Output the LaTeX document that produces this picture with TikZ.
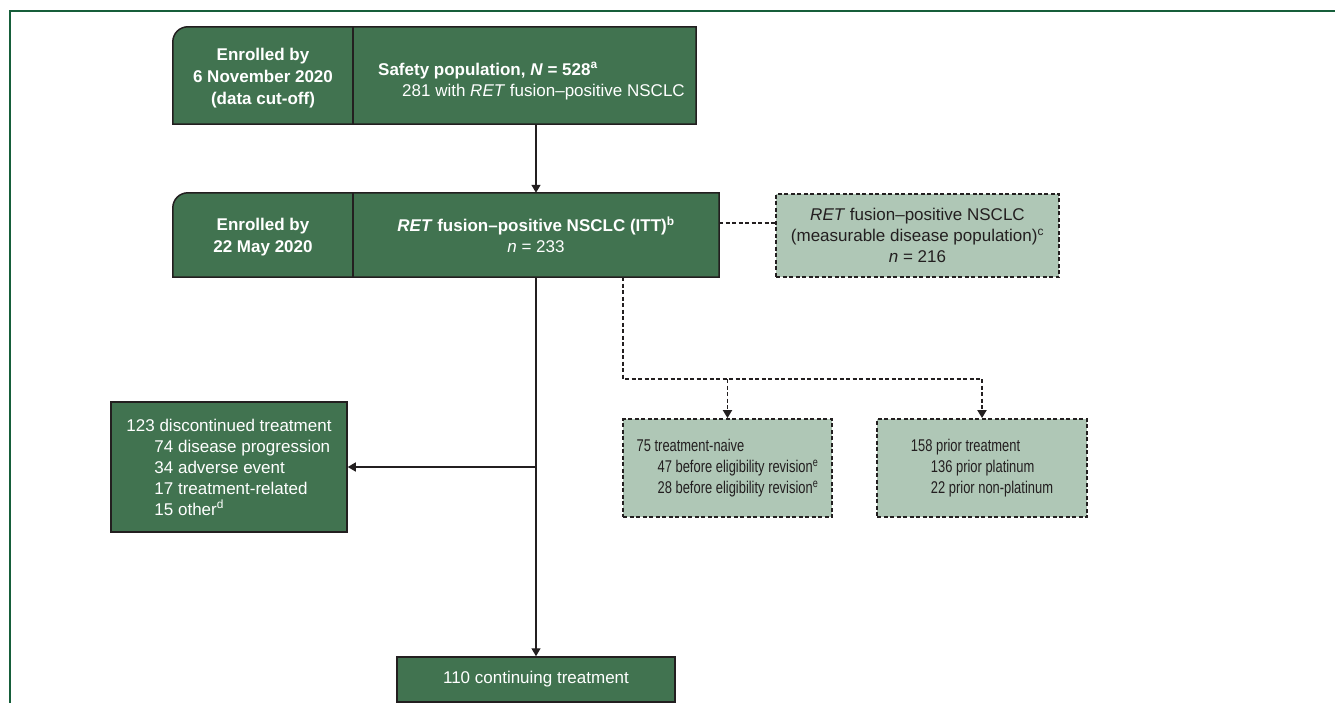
\documentclass[tikz,border=0pt]{standalone}
\usepackage{fontspec}
\setmainfont{Liberation Sans}
\newfontfamily\narrowfont[FakeStretch=0.76]{Liberation Sans}
\usepackage{xcolor}
\usetikzlibrary{arrows.meta,positioning,backgrounds}
\definecolor{frame}{RGB}{22,94,58}
\definecolor{dkgreen}{RGB}{65,115,80}
\definecolor{ltgreen}{RGB}{175,199,182}
\definecolor{ink}{RGB}{35,31,32}

\begin{document}
\begin{tikzpicture}[
    x=1pt, y=-1pt,
    font=\fontsize{17}{21}\selectfont,
    datecell/.style={inner sep=0pt, minimum width=180pt, text=white, align=center, font=\fontsize{17}{22}\selectfont\bfseries},
    shell/.style={draw=ink, line width=1.5pt, fill=dkgreen},
    darkbox/.style={draw=ink, line width=1.5pt, fill=dkgreen, text=white, inner sep=0pt, align=left},
    lightbox/.style={draw=ink, line width=1.8pt, dash pattern=on 4pt off 2.5pt, fill=ltgreen, text=ink, inner sep=0pt},
    arr/.style={draw=ink, line width=1.4pt, -{Triangle[length=8pt,width=9pt]}},
    dotline/.style={draw=ink, line width=1.8pt, dash pattern=on 4pt off 2.5pt},
    dotarr/.style={dotline, -{Triangle[length=8pt,width=9pt]}}
]
\useasboundingbox (0,0) rectangle (1335,703);

% Frame
\draw[frame, line width=2.5pt] (10,703) -- (10,11) -- (1335,11);

% Top rows
\node[datecell, minimum height=97pt] (e1) at (263,78) {Enrolled by\\6 November 2020\\(data cut-off)};
\node[inner sep=0pt, minimum width=343pt, minimum height=97pt] (s1) at (524.5,75.5) {};
\node[inner sep=0pt, anchor=west, align=left, text=white] (st) at (378,81)
    {\textbf{Safety population, \textit{N} = 528\textsuperscript{a}}\\\hspace*{24pt}281 with \textit{RET} fusion–positive NSCLC};

\node[datecell, minimum height=84pt] (e2) at (263,237) {Enrolled by\\22 May 2020};
\node[inner sep=0pt, minimum width=366pt, minimum height=84pt, align=center, text=white] (i2) at (536,235)
    {\textbf{\textit{RET} fusion–positive NSCLC (ITT)\textsuperscript{b}}\\\textit{n} = 233};

\begin{scope}[on background layer]
\draw[shell] (s1.south east) -- (s1.south west -| e1.west) -- (e1.west) [rounded corners=15pt] -- (s1.north west -| e1.west) -- (s1.north west) [sharp corners] -- (s1.north east) -- cycle;
\draw[ink, line width=1.5pt] (s1.north west) -- (s1.south west);
\draw[shell] (i2.south east) -- (i2.south west -| e2.west) -- (e2.west) [rounded corners=15pt] -- (i2.north west -| e2.west) -- (i2.north west) [sharp corners] -- (i2.north east) -- cycle;
\draw[ink, line width=1.5pt] (i2.north west) -- (i2.south west);
\end{scope}

% Side and lower boxes
\node[lightbox, minimum width=283pt, minimum height=83pt, align=center] (m2) at (917.5,235.5)
    {\textit{RET} fusion–positive NSCLC\\(measurable disease population)\textsuperscript{c}\\\textit{n} = 216};

\node[lightbox, minimum width=209pt, minimum height=98pt, align=left, font=\fontsize{17}{21}\narrowfont] (tn) at (727.5,468)
    {75 treatment-naive\\\hspace*{21pt}47 before eligibility revision\textsuperscript{e}\\\hspace*{21pt}28 before eligibility revision\textsuperscript{e}};
\node[lightbox, minimum width=210pt, minimum height=98pt, align=left, font=\fontsize{17}{21}\narrowfont] (pt) at (982,468)
    {158 prior treatment\\\hspace*{20pt}136 prior platinum\\\hspace*{20pt}22 prior non-platinum};

\node[darkbox, minimum width=236pt, minimum height=130pt] (dc) at (229,467)
    {123 discontinued treatment\\\hspace*{28pt}74 disease progression\\\hspace*{28pt}34 adverse event\\\hspace*{28pt}17 treatment-related\\\hspace*{28pt}15 other\textsuperscript{d}};
\node[darkbox, minimum width=278pt, minimum height=45pt, align=center] (cont) at (536,679.5) {110 continuing treatment};

% Connectors
\coordinate (split) at (623,379);
\draw[arr] (s1.south -| i2.north) -- (i2.north);
\draw[dotline] ([yshift=12pt]i2.east) -- ([yshift=12pt]i2.east -| m2.west);
\draw[dotline] (i2.south -| split) -- (split) -- (split -| pt.north);
\draw[dotarr] (split -| tn.north) -- (tn.north);
\draw[dotarr] (split -| pt.north) -- (pt.north);
\draw[arr] (i2.south) -- (cont.north);
\draw[arr] (i2.south |- dc.east) -- (dc.east);

\end{tikzpicture}
\end{document}
